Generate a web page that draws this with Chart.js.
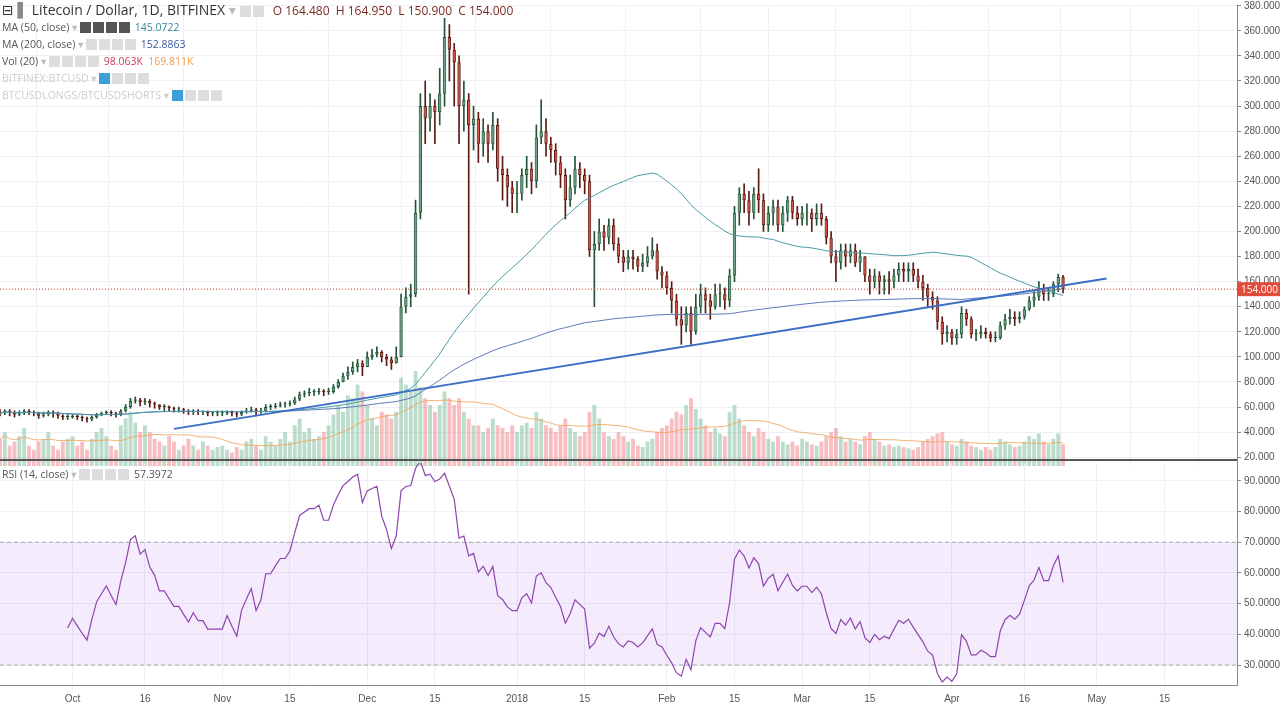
<!DOCTYPE html>
<html>
<head>
<meta charset="utf-8">
<script src="https://cdn.jsdelivr.net/npm/chart.js@4.4.0/dist/chart.umd.min.js"></script>
<style>
  body { margin:0; background:#fff; font-family:"Open Sans", "DejaVu Sans", sans-serif; overflow:hidden; }
  #top { position:absolute; left:0; top:-4px; width:1280px; height:479px; }
  #bottom { position:absolute; left:0; top:454px; width:1280px; height:255px; }
  .sep { position:absolute; left:0; top:459px; width:1237px; height:2px; background:#555; z-index:5; }
  .legend { position:absolute; left:2px; font-size:10.5px; color:#555; white-space:nowrap; z-index:6; }
  .legend span.i { display:inline-block; width:11px; height:11px; background:#ddd; margin-right:2px; vertical-align:-2px; }
</style>
</head>
<body>
<div id="top"><canvas id="priceCanvas"></canvas></div>
<div id="bottom"><canvas id="rsiCanvas"></canvas></div>
<div class="sep"></div>
<div class="legend" style="top:0px;font-size:14px;color:#333">&#8863; <b style="color:#888">&#9612;</b> Litecoin / Dollar, 1D, BITFINEX <span style="color:#bbb">&#9662;</span> <span class="i"></span><span class="i"></span>&nbsp; <span style="font-size:12px;color:#7a2a20">O 164.480 &nbsp;H 164.950 &nbsp;L 150.900 &nbsp;C 154.000</span></div>
<div class="legend" style="top:20px">MA (50, close) <span style="color:#bbb">&#9662;</span> <span class="i" style="background:#555"></span><span class="i" style="background:#555"></span><span class="i" style="background:#555"></span><span class="i" style="background:#555"></span> <span style="color:#3a8aa0">145.0722</span></div>
<div class="legend" style="top:37px">MA (200, close) <span style="color:#bbb">&#9662;</span> <span class="i"></span><span class="i"></span><span class="i"></span><span class="i"></span> <span style="color:#3a5aa0">152.8863</span></div>
<div class="legend" style="top:54px">Vol (20) <span style="color:#bbb">&#9662;</span> <span class="i"></span><span class="i"></span><span class="i"></span><span class="i"></span> <span style="color:#d04060">98.063K</span> &nbsp;<span style="color:#f0a050">169.811K</span></div>
<div class="legend" style="top:71px;color:#ccc">BITFINEX:BTCUSD <span>&#9662;</span> <span class="i" style="background:#3ba0d8"></span><span class="i"></span><span class="i"></span><span class="i"></span></div>
<div class="legend" style="top:88px;color:#ccc">BTCUSDLONGS/BTCUSDSHORTS <span>&#9662;</span> <span class="i" style="background:#3ba0d8"></span><span class="i"></span><span class="i"></span><span class="i"></span></div>
<div class="legend" style="top:467px">RSI (14, close) <span style="color:#bbb">&#9662;</span> <span class="i"></span><span class="i"></span><span class="i"></span><span class="i"></span> <span style="color:#555">57.3972</span></div>
<script>
// daily candles, 2017-09-16 .. 2018-04-24
const startDate = '2017-09-16';
const axisDays = 257; // axis runs to end of May
const closes = [
  55,57,56,54,55,57,56,55,53,54,56,55,53,52,52,
  53,52,51,50,52,54,55,56,55,54,57,60,65,66,64, 65,63,62,60,60,59,58,58,57,56,57,56,56,55,55,55,
  55,56,55,54,56,57,58,56,57,60,60,61,62,62,63, 66,70,71,72,72,73,72,72,76,80,85,88,92,95,92,
  100,102,104,100,98,95,100,140,148,150,215,300,290,300,295,310,355,345,335,300,305,285,290,270,280,270,285,250,245,235,230,
  230,245,250,240,275,280,270,265,255,245,225,235,250,245,240,185,190,200,195,205,190,180,175,180,178,172,175,180,185,168,165,
  155,145,130,125,135,120,140,150,145,140,150,150,145,165,215,230,225,215,230,225,205,215,220,205,215,225,215,210,
  215,215,210,215,210,195,180,175,185,180,185,175,180,165,160,165,160,162,160,165,170,168,170,165,160,155,148,145,128,118,120,
  115,118,135,130,118,118,120,118,115,115,125,130,132,130,132,138,145,148,155,150,150,158,164,154
];
const highs = [
  58,58,58,57,57,58,58,57,56,56,57,57,56,54,54,
  54,54,53,52,53,55,56,57,57,56,58,62,67,68,67, 67,66,64,62,62,61,60,60,59,58,58,58,57,57,56,57,
  57,57,57,56,57,59,60,59,59,62,62,63,64,64,65, 68,72,73,75,74,75,74,75,78,82,87,92,96,98,97,
  104,106,108,105,102,100,108,150,155,158,225,310,320,310,305,330,370,365,350,340,320,310,300,295,290,285,295,290,260,250,240,
  240,250,260,255,285,305,290,275,270,260,250,245,260,255,250,245,200,210,205,210,210,195,185,185,185,180,182,188,195,190,172,
  168,160,150,140,140,140,150,158,155,150,158,158,155,170,220,235,238,232,235,250,230,220,225,225,220,228,228,220,
  220,222,218,222,222,212,200,185,190,190,190,190,185,180,170,170,168,165,168,170,175,175,175,175,170,165,158,152,148,132,125,
  122,122,140,138,132,122,125,123,120,120,128,134,138,136,136,140,148,152,160,158,155,160,166,165
];
const lows = [
  53,54,53,52,53,54,54,53,51,52,53,52,51,50,50,
  51,50,49,48,49,51,53,54,53,52,53,56,59,63,61, 62,60,59,58,57,57,56,56,55,54,54,54,54,53,53,53,
  53,54,53,52,53,55,56,54,55,56,58,59,60,60,61, 62,65,68,69,69,70,69,70,71,75,80,82,86,88,85,
  95,98,100,96,93,90,95,100,135,140,148,210,270,280,270,285,300,320,300,270,280,150,265,255,260,255,265,240,225,220,215,
  215,225,235,230,235,270,260,255,245,235,210,220,230,235,230,180,140,185,185,190,185,175,168,170,170,168,168,172,178,162,155,
  150,135,125,110,120,110,118,135,135,130,138,140,138,140,160,205,215,205,210,215,200,200,205,200,200,208,210,205,
  205,205,200,205,205,190,175,160,170,172,175,172,168,160,150,155,150,150,150,155,160,160,160,160,155,145,140,138,122,110,112,
  110,110,115,125,115,113,115,115,112,112,114,122,126,125,127,130,137,140,145,145,145,148,152,151
];
const volumes = [
  20,25,15,18,22,28,15,12,18,20,25,15,12,18,20,
  22,15,18,12,20,25,28,22,15,12,30,35,40,32,25, 30,25,20,18,15,22,18,12,15,20,15,12,18,15,12,14,
  15,12,10,14,12,18,20,15,12,22,18,15,20,25,18, 30,35,25,28,20,22,25,30,38,45,40,52,50,60,55,
  45,35,30,40,38,35,40,65,60,55,70,58,50,45,40,45,55,50,45,50,40,35,30,30,25,28,35,30,28,25,30,
  25,30,32,28,40,35,30,28,25,30,35,28,25,22,25,40,45,35,25,22,20,25,22,18,20,15,14,18,20,25,28,
  30,35,40,38,45,50,42,35,30,25,28,24,22,40,45,35,30,25,22,28,25,20,18,22,18,16,18,15,
  20,18,16,15,18,22,25,28,22,18,20,18,16,22,25,20,18,15,16,14,15,14,13,12,14,18,20,22,24,25,18,
  16,15,20,18,15,14,12,14,12,14,20,18,16,14,15,18,22,20,24,18,16,20,24,16
];
const firstOpen = 56;
const lastPrice = 154;
// hand-drawn trend line: [date, price]
const trendLine = [['2017-10-22', 42.6], ['2018-05-03', 162.5]];
const priceTicks = [20,40,60,80,100,120,140,160,180,200,220,240,260,280,300,320,340,360,380];
const rsiTicks = [30,40,50,60,70,80,90];
const dateTicks = {
  '2017-10-01':'Oct','2017-10-16':'16','2017-11-01':'Nov','2017-11-15':'15','2017-12-01':'Dec','2017-12-15':'15',
  '2018-01-01':'2018','2018-01-15':'15','2018-02-01':'Feb','2018-02-15':'15','2018-03-01':'Mar','2018-03-15':'15',
  '2018-04-01':'Apr','2018-04-16':'16','2018-05-01':'May','2018-05-15':'15'
};

let labels = [];
let d0 = new Date(startDate + 'T00:00:00Z');
for (let i = 0; i < axisDays; i++) {
  let d = new Date(d0.getTime() + i * 86400000);
  labels.push(d.toISOString().slice(0, 10));
}
let opens = closes.map((c, i) => i === 0 ? firstOpen : closes[i - 1]);
let up = closes.map((c, i) => c >= opens[i]);

function sma(arr, n) {
  return arr.map((v, i) => {
    let s = arr.slice(Math.max(0, i - n + 1), i + 1);
    return s.reduce((a, b) => a + b, 0) / s.length;
  });
}
function rsi(arr, n) {
  let out = arr.map(() => null), ag = 0, al = 0;
  for (let i = 1; i < arr.length; i++) {
    let ch = arr[i] - arr[i - 1], g = Math.max(ch, 0), l = Math.max(-ch, 0);
    if (i <= n) { ag += g / n; al += l / n; }
    else { ag = (ag * (n - 1) + g) / n; al = (al * (n - 1) + l) / n; }
    if (i >= n) out[i] = al === 0 ? 100 : 100 - 100 / (1 + ag / al);
  }
  return out;
}
let trendData = labels.map(l => { let t = trendLine.find(p => p[0] === l); return t ? t[1] : null; });

const xTicks = function(axis) { axis.ticks = axis.ticks.filter(t => dateTicks[labels[t.value]]); };
const yFit = function(s) { s.width = 43; };

let priceChart = new Chart(document.getElementById('priceCanvas'), {
  data: {
    labels: labels,
    datasets: [
      { type:'bar', yAxisID:'vol', data: volumes, backgroundColor: up.map(u => u ? 'rgba(107,180,140,0.45)' : 'rgba(240,110,120,0.45)'),
        barPercentage:0.8, categoryPercentage:1, grouped:false, order:5 },
      { type:'line', yAxisID:'vol', data: sma(volumes, 20), borderColor:'rgba(240,160,80,0.8)', borderWidth:1, pointRadius:0, order:4 },
      { type:'bar', data: closes.map((c, i) => [lows[i], highs[i]]), backgroundColor: up.map(u => u ? '#225437' : '#5b1a13'),
        barThickness:1, grouped:false, order:3 },
      { type:'bar', data: closes.map((c, i) => [opens[i], c]), backgroundColor: up.map(u => u ? '#6ba583' : '#d75442'),
        borderColor: up.map(u => u ? '#225437' : '#5b1a13'), borderWidth:1, borderSkipped:false,
        barPercentage:0.7, categoryPercentage:1, grouped:false, minBarLength:1, order:2 },
      { type:'line', data: sma(closes, 50), borderColor:'#4a9aa8', borderWidth:1, pointRadius:0, order:1 },
      { type:'line', data: sma(closes, 200), borderColor:'#5a7ab8', borderWidth:1, pointRadius:0, order:1 },
      { type:'line', data: trendData, spanGaps:true, borderColor:'#3b6fc4', borderWidth:2, pointRadius:0, order:0 }
    ]
  },
  options: {
    responsive:true, maintainAspectRatio:false, animation:false,
    plugins:{ legend:{display:false}, tooltip:{enabled:false} },
    scales:{
      x:{ offset:false, afterBuildTicks:xTicks, ticks:{display:false}, grid:{color:'#eef0f3', drawTicks:false}, border:{display:false} },
      y:{ position:'right', min:13.0, max:380.6, afterBuildTicks: a => { a.ticks = priceTicks.map(v => ({value:v})); }, afterFit:yFit,
          ticks:{ color:'#555', font:{size:10}, padding:3, callback: v => v.toFixed(3) },
          grid:{ color:'#eef0f3', tickLength:4, tickColor:'#888' }, border:{ color:'#888' } },
      vol:{ display:false, min:0, max:340 }
    }
  },
  plugins:[{
    id:'lastLine',
    afterDatasetsDraw(chart) {
      let ctx = chart.ctx, y = chart.scales.y.getPixelForValue(lastPrice), a = chart.chartArea;
      ctx.save();
      ctx.strokeStyle = '#c0392b'; ctx.setLineDash([1, 2]); ctx.lineWidth = 1;
      ctx.beginPath(); ctx.moveTo(a.left, y); ctx.lineTo(a.right, y); ctx.stroke();
      ctx.setLineDash([]);
      ctx.fillStyle = '#e04b3a'; ctx.fillRect(a.right, y - 7, 43, 14);
      ctx.fillStyle = '#fff'; ctx.font = '10px "Open Sans"'; ctx.textBaseline = 'middle';
      ctx.fillText(lastPrice.toFixed(3), a.right + 4, y + 1);
      ctx.restore();
    }
  }]
});

let rsiChart = new Chart(document.getElementById('rsiCanvas'), {
  type:'line',
  data: { labels: labels, datasets: [
    { data: rsi(closes, 14), borderColor:'#8e44ad', borderWidth:1.2, pointRadius:0 }
  ]},
  options: {
    responsive:true, maintainAspectRatio:false, animation:false,
    plugins:{ legend:{display:false}, tooltip:{enabled:false} },
    scales:{
      x:{ afterBuildTicks:xTicks, ticks:{ color:'#555', font:{size:10}, maxRotation:0, autoSkip:false, padding:4, callback: (v) => dateTicks[labels[v]] },
          grid:{color:'#eef0f3', tickLength:4}, border:{color:'#888'} },
      y:{ position:'right', min:23.5, max:95.8, afterBuildTicks: a => { a.ticks = rsiTicks.map(v => ({value:v})); }, afterFit:yFit,
          ticks:{ color:'#555', font:{size:10}, padding:3, callback: v => v.toFixed(4) },
          grid:{ color:'#eef0f3', tickLength:4, tickColor:'#888' }, border:{ color:'#888' } }
    }
  },
  plugins:[{
    id:'band',
    beforeDatasetsDraw(chart) {
      let ctx = chart.ctx, a = chart.chartArea, y = chart.scales.y;
      let y70 = y.getPixelForValue(70), y30 = y.getPixelForValue(30);
      ctx.save();
      ctx.fillStyle = 'rgba(170,100,240,0.13)';
      ctx.fillRect(a.left, y70, a.right - a.left, y30 - y70);
      ctx.strokeStyle = '#aaa'; ctx.setLineDash([4, 3]); ctx.lineWidth = 1;
      [y70, y30].forEach(p => { ctx.beginPath(); ctx.moveTo(a.left, p); ctx.lineTo(a.right, p); ctx.stroke(); });
      ctx.restore();
    }
  }]
});
</script>
</body>
</html>
